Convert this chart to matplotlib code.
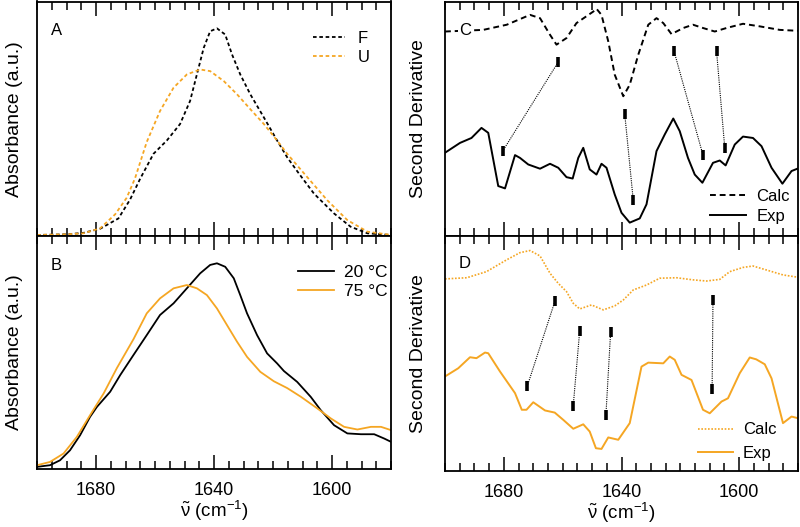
import matplotlib
matplotlib.use("Agg")
import matplotlib.pyplot as plt
from matplotlib.ticker import MultipleLocator

plt.rcParams["font.family"] = ["Liberation Sans", "DejaVu Sans"]
plt.rcParams["font.size"] = 12
plt.rcParams["mathtext.fontset"] = "custom"
plt.rcParams["mathtext.rm"] = "Liberation Sans"
plt.rcParams["mathtext.it"] = "Liberation Sans"
plt.rcParams["mathtext.bf"] = "Liberation Sans:bold"

ORANGE = "#F5A623"

# Panel A: calculated absorbance, folded (F) and unfolded (U)
a_f_nu = [1700, 1690, 1684.3, 1678.6, 1672.4, 1668.5, 1665, 1660.5, 1656, 1651.5,
          1648.1, 1645.8, 1643.5, 1641.3, 1639, 1636.2, 1633.9, 1631.1, 1627.7, 1623.1,
          1618.6, 1615.2, 1611.2, 1606.1, 1599.3, 1593.7, 1588, 1580]
a_f = [0, 0.003, 0.01, 0.03, 0.08, 0.17, 0.273, 0.393, 0.457, 0.537,
       0.649, 0.777, 0.905, 0.986, 1.0, 0.970, 0.874, 0.777, 0.681, 0.569,
       0.457, 0.376, 0.297, 0.20, 0.104, 0.04, 0.008, 0]
a_u_nu = [1700, 1690, 1684.3, 1678.6, 1673.5, 1669.6, 1666.8, 1662.8, 1658.3, 1653.7,
          1649.2, 1644.7, 1641.3, 1636.7, 1632.2, 1627.7, 1623.1, 1618.6, 1615.2, 1608.4,
          1601.6, 1594.8, 1588, 1580]
a_u = [0, 0.003, 0.008, 0.032, 0.10, 0.18, 0.273, 0.45, 0.60, 0.713,
       0.777, 0.801, 0.793, 0.745, 0.681, 0.609, 0.537, 0.457, 0.393, 0.28,
       0.168, 0.072, 0.016, 0]

# Panel B: experimental absorbance at 20 and 75 C
b_20_nu = [1700, 1695.6, 1692.2, 1688.8, 1685.4, 1682, 1679.7, 1675.2, 1671.8, 1667.3,
           1662.8, 1658.3, 1653.7, 1649.2, 1644.7, 1641.3, 1639, 1636.2, 1633.3, 1631.1,
           1628.8, 1625.4, 1622, 1618.6, 1616.3, 1611.8, 1607.2, 1603.8, 1599.3, 1594.8,
           1590.2, 1585.7, 1582.3, 1580]
b_20 = [0.008, 0.016, 0.040, 0.089, 0.162, 0.252, 0.300, 0.374, 0.455, 0.553,
        0.650, 0.748, 0.805, 0.878, 0.951, 0.992, 1.0, 0.983, 0.927, 0.845,
        0.756, 0.650, 0.561, 0.512, 0.475, 0.422, 0.349, 0.284, 0.211, 0.171,
        0.167, 0.167, 0.146, 0.130]
b_75_nu = [1700, 1695.6, 1691, 1686.5, 1682, 1677.4, 1672.9, 1667.3, 1662.8, 1658.3,
           1653.7, 1649.2, 1645.8, 1642.4, 1639, 1635.6, 1632.2, 1628.8, 1624.3, 1619.7,
           1615.2, 1610.6, 1605, 1600.4, 1595.9, 1591.4, 1586.8, 1583.4, 1580]
b_75 = [0.016, 0.032, 0.073, 0.154, 0.26, 0.366, 0.49, 0.63, 0.756, 0.829,
        0.878, 0.894, 0.878, 0.845, 0.780, 0.699, 0.618, 0.544, 0.471, 0.425,
        0.392, 0.35, 0.293, 0.244, 0.203, 0.190, 0.203, 0.203, 0.187]

# Panel C: second derivative, folded
c_calc_nu = [1700, 1687, 1679, 1671.1, 1667.7, 1664.3, 1662.1, 1658.7, 1655.3, 1649.6,
             1648.5, 1646.8, 1644.5, 1642.3, 1639.4, 1637.2, 1634.3, 1630.9, 1628.1, 1625.8,
             1623, 1619, 1615.7, 1612.3, 1608.3, 1604.3, 1598.7, 1593, 1586.2, 1580]
c_calc = [0.872, 0.879, 0.901, 0.943, 0.929, 0.858, 0.816, 0.844, 0.908, 0.957,
          0.969, 0.943, 0.830, 0.688, 0.596, 0.645, 0.773, 0.901, 0.929, 0.908,
          0.861, 0.887, 0.901, 0.887, 0.872, 0.887, 0.905, 0.894, 0.879, 0.875]
c_exp_nu = [1700, 1694.9, 1691, 1687.6, 1685.3, 1681.9, 1679.6, 1676.2, 1674.5, 1671.7,
            1667.7, 1664.3, 1661.5, 1658.7, 1656.6, 1654.7, 1653, 1650.8, 1648.5, 1646.8,
            1645.1, 1642.3, 1640, 1637.2, 1633.8, 1631.5, 1628.1, 1625.3, 1622.4, 1620.2,
            1617.4, 1615.1, 1612.5, 1608.9, 1606.6, 1604.6, 1601.5, 1598.7, 1595.3, 1592.4,
            1589, 1585.3, 1582.2, 1580]
c_exp = [0.355, 0.397, 0.418, 0.461, 0.440, 0.213, 0.203, 0.345, 0.333, 0.305,
         0.287, 0.308, 0.291, 0.251, 0.245, 0.333, 0.376, 0.284, 0.262, 0.308,
         0.291, 0.177, 0.099, 0.057, 0.075, 0.135, 0.362, 0.433, 0.501, 0.447,
         0.333, 0.262, 0.227, 0.312, 0.322, 0.301, 0.390, 0.424, 0.418, 0.383,
         0.291, 0.223, 0.277, 0.288]
# band assignments: (calc position, calc level) -> (exp position, exp level)
c_pairs = [((1661.5, 0.742), (1680.4, 0.362)),
           ((1638.9, 0.521), (1636.0, 0.152)),
           ((1622.2, 0.791), (1612.3, 0.345)),
           ((1607.7, 0.790), (1604.9, 0.376))]

# Panel D: second derivative, unfolded
d_calc_nu = [1700, 1692.6, 1685.9, 1679.1, 1674.5, 1671.1, 1667.7, 1664.3, 1661.5, 1658.7,
             1656.4, 1654.2, 1650.2, 1646.2, 1642.3, 1639.4, 1636, 1631.5, 1627, 1621.3,
             1615.7, 1611.1, 1606.6, 1603.2, 1598.7, 1595.3, 1590.7, 1585.1, 1580]
d_calc = [0.817, 0.822, 0.848, 0.898, 0.929, 0.938, 0.915, 0.841, 0.798, 0.763,
          0.713, 0.689, 0.706, 0.685, 0.702, 0.727, 0.770, 0.791, 0.820, 0.822,
          0.813, 0.808, 0.815, 0.848, 0.866, 0.872, 0.855, 0.834, 0.824]
d_exp_nu = [1700, 1695.5, 1691.5, 1689.3, 1686.4, 1685.3, 1681.3, 1676.2, 1673.9, 1672.3,
            1670, 1666, 1662.7, 1659.8, 1656.4, 1653, 1650.8, 1648.7, 1646.8, 1644.5,
            1641.1, 1637.2, 1633.2, 1630.9, 1625.8, 1623.6, 1621.9, 1619.6, 1616.2, 1612.3,
            1610, 1606, 1603.8, 1599.8, 1596.4, 1594.2, 1591.3, 1589, 1585.1, 1582.2, 1580]
d_exp = [0.401, 0.436, 0.483, 0.479, 0.503, 0.500, 0.422, 0.330, 0.259, 0.259,
         0.291, 0.256, 0.247, 0.216, 0.178, 0.197, 0.166, 0.095, 0.092, 0.141,
         0.131, 0.202, 0.443, 0.460, 0.457, 0.486, 0.472, 0.408, 0.386, 0.259,
         0.244, 0.294, 0.308, 0.415, 0.482, 0.474, 0.453, 0.393, 0.202, 0.230, 0.223]
d_pairs = [((1662.6, 0.723), (1672.0, 0.361)),
           ((1654.2, 0.597), (1656.4, 0.277)),
           ((1643.7, 0.589), (1645.3, 0.237)),
           ((1608.9, 0.727), (1609.2, 0.347))]

W, H = 800, 527
fig = plt.figure(figsize=(W / 100, H / 100), dpi=100)


def make_ax(x0, y0, x1, y1):
    # pixel box (top-left origin) -> figure axes
    return fig.add_axes([x0 / W, 1 - y1 / H, (x1 - x0) / W, (y1 - y0) / H])


def style_ax(ax, show_labels):
    ax.set_xlim(1700, 1580)
    ax.xaxis.set_major_locator(MultipleLocator(40))
    ax.xaxis.set_minor_locator(MultipleLocator(5))
    ax.tick_params(axis="x", which="both", direction="in", top=True, bottom=True,
                   width=1.1, labelsize=13, pad=10)
    ax.tick_params(axis="x", which="major", length=10)
    ax.tick_params(axis="x", which="minor", length=6)
    ax.set_yticks([])
    for s in ax.spines.values():
        s.set_linewidth(1.3)
    if show_labels:
        ax.set_xlabel(r"$\tilde{\nu}$ (cm$^{-1}$)", fontsize=13.5, labelpad=0)
    else:
        ax.tick_params(axis="x", labelbottom=False)


def draw_pairs(ax, pairs):
    for (x1, y1), (x2, y2) in pairs:
        ax.plot([x1, x2], [y1, y2], color="black", lw=0.8, ls=(0, (1, 1)))
        ax.plot([x1, x2], [y1, y2], ls="none", marker="|", ms=7.5, mew=2.6, color="black")


def legend_at(ax, x, y, size, hl, tp, ls):
    ax.legend(loc="upper left", bbox_to_anchor=(x, y), frameon=False, fontsize=size,
              handlelength=hl, handletextpad=tp, labelspacing=ls,
              borderpad=0, borderaxespad=0)


ax_a = make_ax(37, 1.5, 391, 236)
ax_b = make_ax(37, 236, 391, 468.5)
ax_c = make_ax(445, 1.5, 798, 236)
ax_d = make_ax(445, 236, 798, 470.5)

# A
ax_a.plot(a_f_nu, a_f, color="black", lw=1.3, ls=(0, (2, 1.5)), label="F")
ax_a.plot(a_u_nu, a_u, color=ORANGE, lw=1.3, ls=(0, (2, 1.5)), label="U")
ax_a.set_ylim(-0.005, 1.13)
style_ax(ax_a, False)
ax_a.set_ylabel("Absorbance (a.u.)", fontsize=14, labelpad=10)
ax_a.text(0.039, 0.876, "A", transform=ax_a.transAxes, fontsize=12, va="center")
legend_at(ax_a, 0.78, 0.875, 12, 1.9, 0.8, 0.25)

# B
ax_b.plot(b_20_nu, b_20, color="black", lw=1.3, label="20 \u00b0C")
ax_b.plot(b_75_nu, b_75, color=ORANGE, lw=1.3, label="75 \u00b0C")
ax_b.set_ylim(0, 1.133)
style_ax(ax_b, True)
ax_b.set_ylabel("Absorbance (a.u.)", fontsize=14, labelpad=10)
ax_b.text(0.039, 0.875, "B", transform=ax_b.transAxes, fontsize=12, va="center")
legend_at(ax_b, 0.737, 0.875, 12.5, 2.1, 0.55, 0.2)

# C
ax_c.plot(c_calc_nu, c_calc, color="black", lw=1.4, ls=(0, (3, 2)), label="Calc")
ax_c.plot(c_exp_nu, c_exp, color="black", lw=1.4, label="Exp")
draw_pairs(ax_c, c_pairs)
ax_c.set_ylim(0, 1)
style_ax(ax_c, False)
ax_c.set_ylabel("Second Derivative", fontsize=14, labelpad=13)
ax_c.text(0.04, 0.876, "C", transform=ax_c.transAxes, fontsize=12, va="center",
          bbox=dict(facecolor="white", edgecolor="none", pad=0.5))
legend_at(ax_c, 0.75, 0.20, 12, 2.2, 0.6, 0.3)

# D
ax_d.plot(d_calc_nu, d_calc, color=ORANGE, lw=1.2, ls=(0, (1, 1)), label="Calc")
ax_d.plot(d_exp_nu, d_exp, color=ORANGE, lw=1.4, label="Exp")
draw_pairs(ax_d, d_pairs)
ax_d.set_ylim(0, 1)
style_ax(ax_d, True)
ax_d.set_ylabel("Second Derivative", fontsize=14, labelpad=13)
ax_d.text(0.04, 0.883, "D", transform=ax_d.transAxes, fontsize=12, va="center")
legend_at(ax_d, 0.717, 0.205, 12, 2.1, 0.6, 0.5)

fig.savefig("out.png", dpi=100)
